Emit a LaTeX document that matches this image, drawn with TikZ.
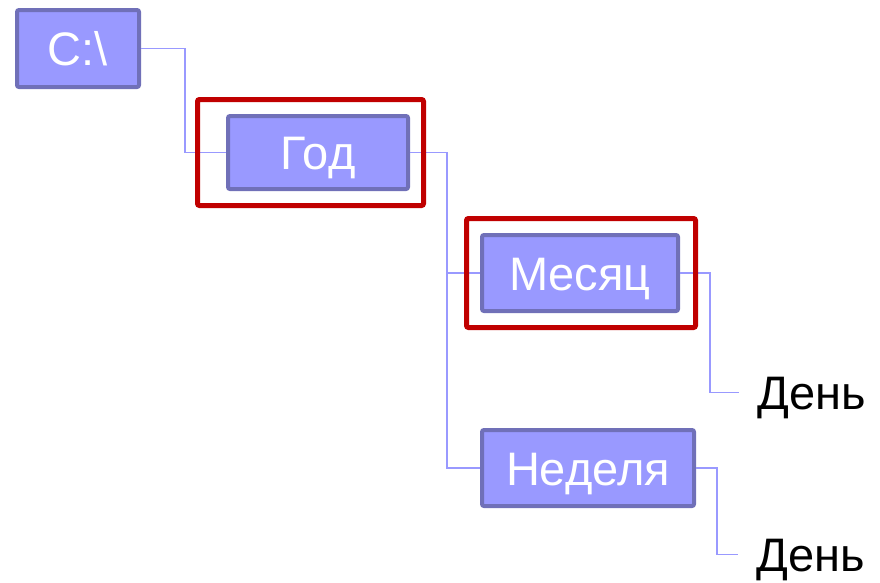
\documentclass[tikz,border=0pt]{standalone}
\usepackage{fontspec}
\setmainfont{Liberation Sans}
\usetikzlibrary{positioning}
\definecolor{boxfill}{HTML}{9999FF}
\definecolor{boxline}{HTML}{7070B8}
\definecolor{framered}{HTML}{C00000}
\definecolor{linkblue}{HTML}{9999FF}

\begin{document}
\begin{tikzpicture}[
    x=1pt, y=-1pt,
    every node/.style={font=\fontsize{47}{56}\selectfont},
    folder/.style={draw=boxline, fill=boxfill, line width=4pt, rounded corners=2pt, text=white, inner sep=0pt, text height=34pt, text depth=0pt},
    chosen/.style={draw=framered, line width=5pt, rounded corners=2pt},
    link/.style={draw=linkblue, line width=1.5pt},
    leaf/.style={anchor=west, inner xsep=18pt, inner ysep=0pt, text height=33pt, text depth=0pt}
]
   \useasboundingbox (0,0) rectangle (880,582);

   % Folders
   \node[folder, minimum width=122pt, minimum height=77pt] (drive) at (78,48.5) {C:\textbackslash};
   \node[folder, minimum width=180pt, minimum height=73pt] (year) at (318,152.5) {Год};
   \node[folder, minimum width=196pt, minimum height=76pt] (month) at (580,273) {Месяц};
   \node[folder, minimum width=212pt, minimum height=76pt] (week) at (588,468) {Неделя};

   % Files
   \node[leaf] (day1) at (739,392.5) {День};
   \node[leaf] (day2) at (738,554.5) {День};

   % Tree lines
   \draw[link] (drive.east) -- ++(44,0) |- (year.west);
   \draw[link] (year.east) -- ++(37,0) |- (month.west);
   \draw[link] (year.east) -- ++(37,0) |- (week.west);
   \draw[link] (month.east) -- ++(30,0) |- (day1.west);
   \draw[link] (week.east) -- ++(21,0) |- (day2.west);

   % Selected folders
   \draw[chosen] ([shift={(-28.5,-14.5)}]year.north west) rectangle ([shift={(13.5,14.5)}]year.south east);
   \draw[chosen] ([shift={(-13.5,-14.5)}]month.north west) rectangle ([shift={(15.5,14.5)}]month.south east);
\end{tikzpicture}
\end{document}
